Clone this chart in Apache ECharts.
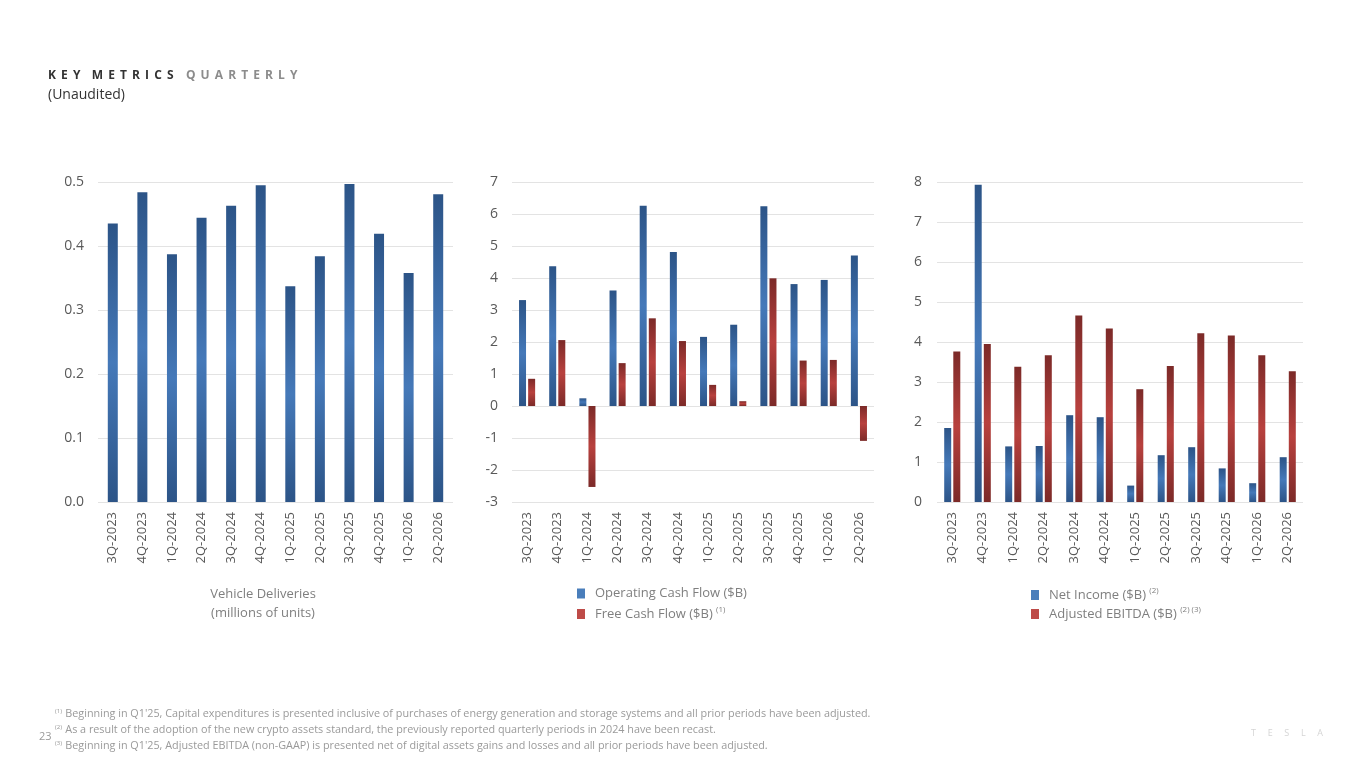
<!DOCTYPE html>
<html>
<head>
<meta charset="utf-8">
<title>Key Metrics Quarterly</title>
<script src="https://cdn.jsdelivr.net/npm/echarts@6/dist/echarts.min.js"></script>
<style>
  html, body { margin: 0; padding: 0; background: #fff; }
  #main { width: 1365px; height: 768px; }
</style>
</head>
<body>
<div id="main"></div>
<script>
  // 季度
  var quarters = ['3Q-2023', '4Q-2023', '1Q-2024', '2Q-2024', '3Q-2024', '4Q-2024', '1Q-2025', '2Q-2025', '3Q-2025', '4Q-2025', '1Q-2026', '2Q-2026']
  // 交付量 (百万辆)
  var deliveries = [0.435, 0.484, 0.387, 0.444, 0.463, 0.495, 0.337, 0.384, 0.497, 0.419, 0.358, 0.481]
  // 现金流 ($B)
  var operatingCashFlow = [3.31, 4.37, 0.24, 3.61, 6.26, 4.81, 2.16, 2.54, 6.24, 3.81, 3.94, 4.70]
  var freeCashFlow = [0.85, 2.06, -2.53, 1.34, 2.74, 2.03, 0.66, 0.15, 3.99, 1.42, 1.44, -1.09]
  // 利润 ($B)
  var netIncome = [1.85, 7.93, 1.39, 1.40, 2.17, 2.12, 0.41, 1.17, 1.37, 0.84, 0.47, 1.12]
  var adjustedEbitda = [3.76, 3.95, 3.38, 3.67, 4.66, 4.34, 2.82, 3.40, 4.22, 4.16, 3.67, 3.27]

  var font = '"Open Sans", "Liberation Sans", sans-serif'
  var axisGray = '#595959'
  var gridColor = '#e3e3e3'

  // 字母间距 (标题用)
  function spaced (s) {
    return s.split('').join('\u2009 ')
  }

  function blueFill () {
    return new echarts.graphic.LinearGradient(0, 0, 0, 1, [
      {offset: 0, color: '#2c5487'},
      {offset: 0.5, color: '#4579b9'},
      {offset: 1, color: '#2c5487'}
    ])
  }
  function redFill () {
    return new echarts.graphic.LinearGradient(0, 0, 0, 1, [
      {offset: 0, color: '#7c2a28'},
      {offset: 0.5, color: '#b8413e'},
      {offset: 1, color: '#7c2a28'}
    ])
  }

  function xAxisOf (gridIndex) {
    return {
      type: 'category',
      gridIndex: gridIndex,
      data: quarters,
      position: 'bottom',
      axisLine: {show: false, onZero: false},
      axisTick: {show: false},
      axisLabel: {rotate: 90, margin: 10, color: axisGray, fontSize: 13, fontFamily: font}
    }
  }
  function yAxisOf (gridIndex, min, max, interval, digits, margin) {
    return {
      type: 'value',
      gridIndex: gridIndex,
      min: min,
      max: max,
      interval: interval,
      axisLine: {show: false},
      axisTick: {show: false},
      splitLine: {lineStyle: {color: gridColor, width: 1}},
      axisLabel: {
        margin: margin,
        color: axisGray,
        fontSize: 14,
        fontFamily: font,
        formatter: function (v) { return v.toFixed(digits) }
      }
    }
  }

  var legendText = {
    color: '#7f7f7f',
    fontSize: 13,
    fontFamily: font,
    rich: {
      t: {color: '#7f7f7f', fontSize: 13, fontFamily: font, padding: [0, 0, 0, 5]},
      s: {color: '#7f7f7f', fontSize: 8, fontFamily: font, padding: [0, 0, 8, 0]}
    }
  }
  function legendOf (name, color, left, top, sup) {
    return {
      left: left,
      top: top,
      orient: 'horizontal',
      icon: 'rect',
      itemWidth: 8,
      itemHeight: 10,
      selectedMode: false,
      data: [{name: name, itemStyle: {color: color}}],
      textStyle: legendText,
      formatter: function (n) {
        return sup ? '{t|' + n + '} {s|' + sup + '}' : '{t|' + n + '}'
      }
    }
  }

  var chart = echarts.init(document.getElementById('main'), null, {renderer: 'canvas'})
  chart.setOption({
    animation: false,
    backgroundColor: '#fff',
    grid: [
      {left: 98, right: 912, top: 182, bottom: 266},
      {left: 512, right: 491, top: 182, bottom: 266},
      {left: 937, right: 62, top: 182, bottom: 266}
    ],
    xAxis: [xAxisOf(0), xAxisOf(1), xAxisOf(2)],
    yAxis: [
      yAxisOf(0, 0, 0.5, 0.1, 1, 14),
      yAxisOf(1, -3, 7, 1, 0, 14),
      yAxisOf(2, 0, 8, 1, 0, 15)
    ],
    legend: [
      legendOf('Operating Cash Flow ($B)', '#4a7ebb', 572, 582),
      legendOf('Free Cash Flow ($B)', '#be4b48', 572, 601, '(1)'),
      legendOf('Net Income ($B)', '#4a7ebb', 1026, 582, '(2)'),
      legendOf('Adjusted EBITDA ($B)', '#be4b48', 1026, 601, '(2) (3)')
    ],
    series: [
      {
        name: 'Vehicle Deliveries',
        type: 'bar',
        xAxisIndex: 0,
        yAxisIndex: 0,
        barWidth: 10,
        data: deliveries,
        itemStyle: {color: blueFill()}
      },
      {
        name: 'Operating Cash Flow ($B)',
        type: 'bar',
        xAxisIndex: 1,
        yAxisIndex: 1,
        barWidth: 7,
        barGap: '30%',
        data: operatingCashFlow,
        itemStyle: {color: blueFill()}
      },
      {
        name: 'Free Cash Flow ($B)',
        type: 'bar',
        xAxisIndex: 1,
        yAxisIndex: 1,
        barWidth: 7,
        barGap: '30%',
        data: freeCashFlow,
        itemStyle: {color: redFill()}
      },
      {
        name: 'Net Income ($B)',
        type: 'bar',
        xAxisIndex: 2,
        yAxisIndex: 2,
        barWidth: 7,
        barGap: '30%',
        data: netIncome,
        itemStyle: {color: blueFill()}
      },
      {
        name: 'Adjusted EBITDA ($B)',
        type: 'bar',
        xAxisIndex: 2,
        yAxisIndex: 2,
        barWidth: 7,
        barGap: '30%',
        data: adjustedEbitda,
        itemStyle: {color: redFill()}
      }
    ],
    graphic: [
      // 标题
      {
        type: 'text',
        left: 48,
        top: 70,
        style: {
          text: '{a|' + spaced('KEY') + '\u2009   ' + spaced('METRICS') + '}\u2009   {b|' + spaced('QUARTERLY') + '}',
          rich: {
            a: {fontSize: 12, fontWeight: 'bold', fill: '#333', fontFamily: font},
            b: {fontSize: 12, fontWeight: 'bold', fill: '#8c8c8c', fontFamily: font}
          }
        }
      },
      {
        type: 'text',
        left: 48,
        top: 88,
        style: {text: '(Unaudited)', fontSize: 14, fill: '#333', fontFamily: font}
      },
      // 第一个图的说明
      {
        type: 'text',
        x: 263,
        y: 585,
        style: {
          text: 'Vehicle Deliveries\n(millions of units)',
          fontSize: 13,
          lineHeight: 19,
          fill: '#7f7f7f',
          fontFamily: font,
          align: 'center'
        }
      },
      // 脚注
      {
        type: 'text',
        left: 55,
        top: 706,
        style: {
          text: '{s|(1)} {t|Beginning in Q1\'25, Capital expenditures is presented inclusive of purchases of energy generation and storage systems and all prior periods have been adjusted.}\n' +
            '{s|(2)} {t|As a result of the adoption of the new crypto assets standard, the previously reported quarterly periods in 2024 have been recast.}\n' +
            '{s|(3)} {t|Beginning in Q1\'25, Adjusted EBITDA (non-GAAP) is presented net of digital assets gains and losses and all prior periods have been adjusted.}',
          lineHeight: 16,
          rich: {
            t: {fontSize: 10.8, fill: '#9a9a9a', fontFamily: font, lineHeight: 16},
            s: {fontSize: 6, fill: '#9a9a9a', fontFamily: font, lineHeight: 16, padding: [0, 0, 6, 0]}
          }
        }
      },
      {
        type: 'text',
        left: 39,
        top: 731,
        style: {text: '23', fontSize: 11, fill: '#9a9a9a', fontFamily: font}
      },
      {
        type: 'text',
        left: 1251,
        top: 729,
        style: {text: 'T     E     S     L     A', fontSize: 9, fill: '#d5d5d5', fontFamily: font}
      }
    ]
  })
</script>
</body>
</html>
